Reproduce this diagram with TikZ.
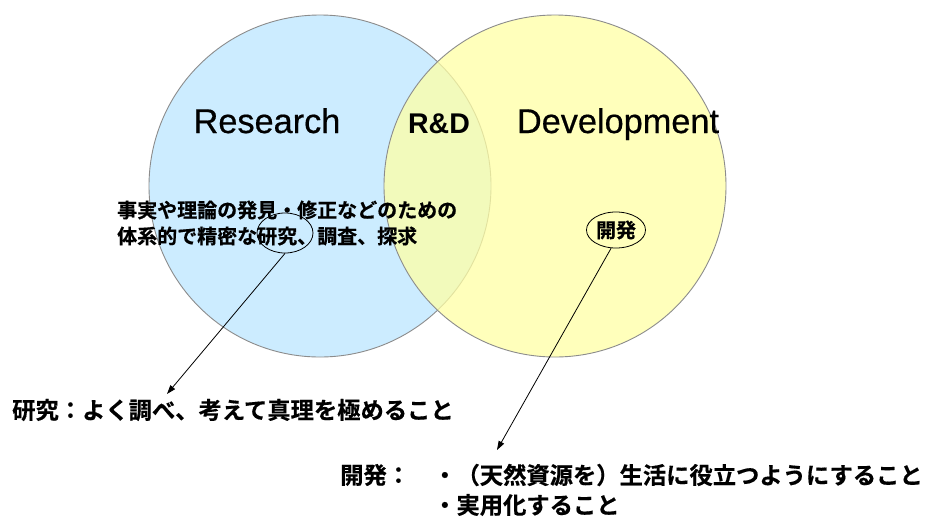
\documentclass[tikz,border=0pt]{standalone}
\usepackage{fontspec}
\setmainfont{Liberation Sans}
\newfontfamily\semisans{Liberation Sans}[FakeBold=0.5]
\newfontfamily\jp{Noto Sans CJK JP Bold}[FakeBold=0.5]
\usetikzlibrary{shapes.geometric,arrows.meta}
\definecolor{bluefill}{RGB}{204,236,255}
\definecolor{yelfill}{RGB}{255,255,165}
\definecolor{rim}{RGB}{140,140,140}
\tikzset{
  venn/.style={draw=rim, line width=0.9pt},
  big/.style={font=\semisans\fontsize{34.3}{40}\selectfont, inner sep=0pt, anchor=base},
  jtext/.style={font=\jp\fontsize{20}{24}\selectfont, inner sep=0pt, anchor=west},
  jlabel/.style={font=\jp\fontsize{23.3}{28}\selectfont, inner sep=0pt, anchor=west},
  oval/.style={draw=black, ellipse, line width=0.8pt, inner sep=0pt},
  pointer/.style={draw=black, line width=0.8pt, -{Triangle[length=9pt,width=6pt]}}
}
\begin{document}
\begin{tikzpicture}[x=1pt,y=-1pt]
\useasboundingbox (0,0) rectangle (927,520);
\fill[white] (0,0) rectangle (927,520);
% circles
\path[venn, fill=bluefill] (320,186) circle[radius=171pt];
\path[venn, fill=yelfill, fill opacity=0.75] (555,186) circle[radius=171pt];
% titles
\node[big] (res) at (267,133) {Research};
\node[big] (dev) at (618,133) {Development};
\node[font=\bfseries\fontsize{28.5}{32}\selectfont, inner sep=0pt, anchor=base] (rd) at (439,133) {R\&D};
% description text
\node[jtext] (l1) at (117,210) {事実や理論の発見・修正などのための};
\node[jtext] (l2) at (117,236) {体系的で精密な研究、調査、探求};
% ovals
\node[oval, minimum width=56pt, minimum height=40pt] (kenE) at (285,233) {};
\node[oval, minimum width=59pt, minimum height=36pt, font=\jp\fontsize{20}{24}\selectfont] (kai) at (616,230) {開発};
% bottom labels
\node[jlabel] (kenL) at (12,410) {研究：よく調べ、考えて真理を極めること};
\node[jlabel] (kaiL) at (340,475) {開発：};
\node[jlabel] (kaiA) at (433,475) {・（天然資源を）生活に役立つようにすること};
\node[jlabel] (kaiB) at (433,505) {・実用化すること};
% arrows
\coordinate (tipA) at (167,394);
\coordinate (tipB) at (497,450);
\draw[pointer] (kenE.south) -- (tipA);
\draw[pointer] (kai.255) -- (tipB);
\end{tikzpicture}
\end{document}
